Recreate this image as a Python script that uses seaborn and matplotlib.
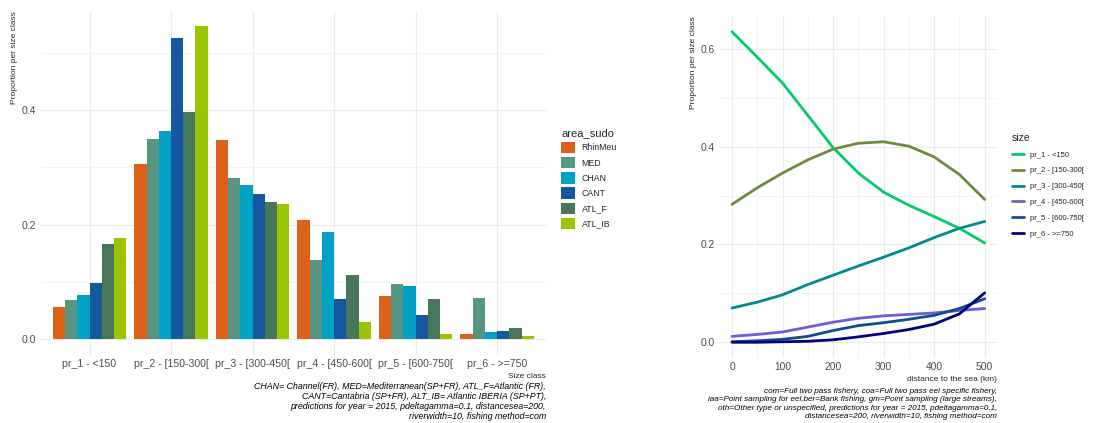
import numpy as np
import pandas as pd
import matplotlib
matplotlib.use("Agg")
import matplotlib.pyplot as plt
import seaborn as sns

# --- data: left panel (proportion per size class by area) ---
size_classes = ["pr_1 - <150", "pr_2 - [150-300[", "pr_3 - [300-450[",
                "pr_4 - [450-600[", "pr_5 - [600-750[", "pr_6 - >=750"]
areas = ["RhinMeu", "MED", "CHAN", "CANT", "ATL_F", "ATL_IB"]
area_colors = ["#DD6119", "#569683", "#00A1C4", "#1558A0", "#477659", "#9BC400"]

rhinmeu = [0.056, 0.306, 0.348, 0.209, 0.076, 0.009]
med = [0.068, 0.350, 0.282, 0.138, 0.096, 0.072]
chan = [0.077, 0.364, 0.270, 0.188, 0.093, 0.012]
cant = [0.098, 0.526, 0.253, 0.070, 0.042, 0.015]
atl_f = [0.166, 0.396, 0.240, 0.113, 0.070, 0.019]
atl_ib = [0.177, 0.546, 0.237, 0.031, 0.009, 0.006]

# --- data: right panel (proportion per size class vs distance to sea) ---
distance = [0, 50, 100, 150, 200, 250, 300, 350, 400, 450, 500]
pr_1 = [0.635, 0.583, 0.530, 0.464, 0.398, 0.346, 0.307, 0.280, 0.257, 0.233, 0.203]
pr_2 = [0.282, 0.316, 0.346, 0.373, 0.395, 0.407, 0.410, 0.401, 0.379, 0.343, 0.292]
pr_3 = [0.070, 0.082, 0.097, 0.118, 0.137, 0.156, 0.174, 0.193, 0.214, 0.233, 0.247]
pr_4 = [0.012, 0.016, 0.021, 0.031, 0.041, 0.049, 0.054, 0.057, 0.060, 0.065, 0.069]
pr_5 = [0.001, 0.003, 0.006, 0.012, 0.024, 0.034, 0.040, 0.047, 0.055, 0.069, 0.089]
pr_6 = [0.000, 0.000, 0.001, 0.002, 0.005, 0.011, 0.018, 0.026, 0.037, 0.058, 0.101]
size_colors = ["#00CD66", "#6E8B3D", "#008B8B", "#6F5CD6", "#104E8B", "#000080"]

left_caption = ("CHAN= Channel(FR), MED=Mediterranean(SP+FR), ATL_F=Atlantic (FR),\n"
                "CANT=Cantabria (SP+FR), ALT_IB= Atlantic IBERIA (SP+PT),\n"
                "predictions for year = 2015, pdeltagamma=0.1, distancesea=200,\n"
                "riverwidth=10, fishing method=com")
right_caption = ("com=Full two pass fishery, coa=Full two pass eel specific fishery,\n"
                 "iaa=Point sampling for eel,ber=Bank fishing, gm=Point sampling (large streams),\n"
                 "oth=Other type or unspecified, predictions for year = 2015, pdeltagamma=0.1,\n"
                 "distancesea=200, riverwidth=10, fishing method=com")

bar_df = pd.DataFrame({
    "size_class": size_classes * len(areas),
    "area_sudo": np.repeat(areas, len(size_classes)),
    "prop": rhinmeu + med + chan + cant + atl_f + atl_ib,
})
line_df = pd.DataFrame({
    "distance": distance * len(size_classes),
    "size": np.repeat(size_classes, len(distance)),
    "prop": pr_1 + pr_2 + pr_3 + pr_4 + pr_5 + pr_6,
})

sns.set_theme(style="white")
plt.rcParams["font.family"] = ["Liberation Sans", "DejaVu Sans"]

grid_col = "#EBEBEB"
tick_col = "#4D4D4D"

fig = plt.figure(figsize=(10.96, 4.23), dpi=100)
fig.patch.set_facecolor("white")

# --- left panel ---
ax1 = fig.add_axes([40.6 / 1096, 1 - 355 / 423, (546 - 40.6) / 1096, (355 - 11) / 423])
sns.barplot(data=bar_df, x="size_class", y="prop", hue="area_sudo",
            hue_order=areas, palette=area_colors, width=0.9, saturation=1,
            errorbar=None, linewidth=0, ax=ax1)
ax1.set_xlim(-0.6, 5.6)
ax1.set_ylim(-0.0273, 0.573)
ax1.set_yticks([0.0, 0.2, 0.4])
ax1.set_yticklabels(["0.0", "0.2", "0.4"])
ax1.set_yticks([0.1, 0.3, 0.5], minor=True)
ax1.grid(which="major", color=grid_col, lw=0.8)
ax1.grid(which="minor", axis="y", color=grid_col, lw=0.4)
ax1.set_axisbelow(True)
ax1.set_xlabel("Size class", loc="right", fontsize=6, labelpad=3)
ax1.set_ylabel("Proportion per size class", loc="top", fontsize=6, labelpad=3)
ax1.tick_params(which="both", length=0, labelsize=7.6, labelcolor=tick_col, pad=3)
for s in ax1.spines.values():
    s.set_visible(False)
ax1.legend(title="area_sudo", loc="upper left",
           bbox_to_anchor=(561 / 1096, 1 - 128 / 423),
           bbox_transform=fig.transFigure, frameon=False,
           borderpad=0, borderaxespad=0,
           fontsize=6.3, title_fontsize=8, handlelength=1.6,
           handleheight=1.6, labelspacing=0.45, handletextpad=0.75,
           alignment="left")

# --- right panel ---
ax2 = fig.add_axes([719.4 / 1096, 1 - 357.8 / 423, (997.3 - 719.4) / 1096, (357.8 - 16.1) / 423])
sns.lineplot(data=line_df, x="distance", y="prop", hue="size",
             hue_order=size_classes, palette=size_colors, linewidth=2,
             ax=ax2)
ax2.set_xlim(-25, 525)
ax2.set_ylim(-0.0318, 0.667)
ax2.set_xticks([0, 100, 200, 300, 400, 500])
ax2.set_xticks([50, 150, 250, 350, 450], minor=True)
ax2.set_yticks([0.0, 0.2, 0.4, 0.6])
ax2.set_yticklabels(["0.0", "0.2", "0.4", "0.6"])
ax2.set_yticks([0.1, 0.3, 0.5], minor=True)
ax2.grid(which="major", color=grid_col, lw=0.8)
ax2.grid(which="minor", color=grid_col, lw=0.4)
ax2.set_axisbelow(True)
ax2.set_xlabel("distance to the sea (km)", loc="right", fontsize=6, labelpad=3)
ax2.set_ylabel("Proportion per size class", loc="top", fontsize=6, labelpad=3)
ax2.tick_params(which="both", length=0, labelsize=7.4, labelcolor=tick_col, pad=3)
for s in ax2.spines.values():
    s.set_visible(False)
leg2 = ax2.legend(title="size", loc="upper left",
                  bbox_to_anchor=(1012 / 1096, 1 - 133 / 423),
                  bbox_transform=fig.transFigure, frameon=False,
                  borderpad=0, borderaxespad=0,
                  fontsize=5.5, title_fontsize=7.5, handlelength=1.6,
                  labelspacing=1.1, handletextpad=0.8, alignment="left")
for h in leg2.get_lines():
    h.set_linewidth(2)

# --- captions ---
fig.text(546 / 1096, 1 - 382 / 423, left_caption, ha="right", va="top",
         fontsize=6.4, style="italic", linespacing=1.15, color="black")
fig.text(997 / 1096, 1 - 388 / 423, right_caption, ha="right", va="top",
         fontsize=5.9, style="italic", linespacing=1.25, color="black")

fig.savefig("out.png", dpi=100, facecolor="white")
